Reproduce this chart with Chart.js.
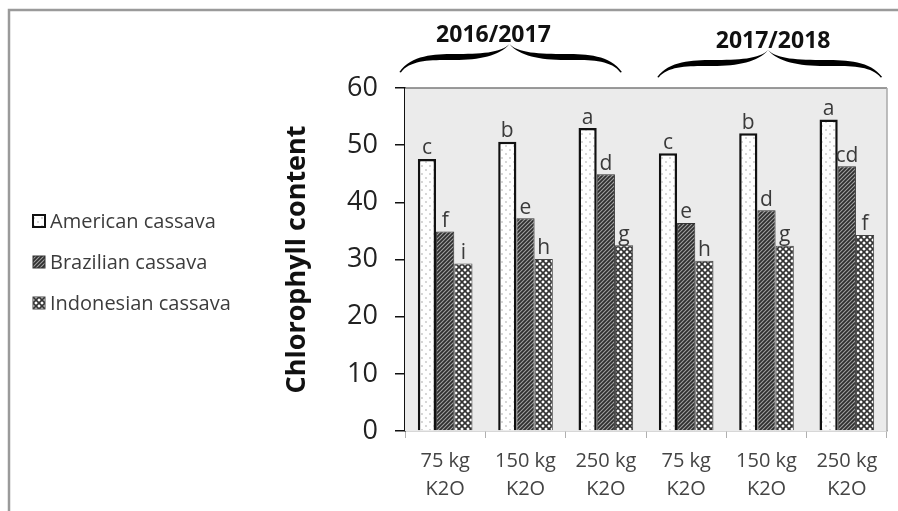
<!DOCTYPE html>
<html>
<head>
<meta charset="utf-8">
<script src="https://cdn.jsdelivr.net/npm/chart.js@4.4.1/dist/chart.umd.min.js"></script>
<style>
html,body{margin:0;padding:0;background:#fff;}
canvas{display:block;}
</style>
</head>
<body>
<canvas id="c" width="898" height="511"></canvas>
<script>
// ---- data ----
const categories = [['75 kg','K2O'],['150 kg','K2O'],['250 kg','K2O'],['75 kg','K2O'],['150 kg','K2O'],['250 kg','K2O']];
const seriesNames = ['American cassava','Brazilian cassava','Indonesian cassava'];
const american   = [47.6, 50.6, 53.0, 48.6, 52.1, 54.5];
const brazilian  = [34.9, 37.2, 44.9, 36.4, 38.6, 46.3];
const indonesian = [29.3, 30.1, 32.5, 29.8, 32.4, 34.3];
const americanLetters   = ['c','b','a','c','b','a'];
const brazilianLetters  = ['f','e','d','e','d','cd'];
const indonesianLetters = ['i','h','g','h','g','f'];
const seasons = ['2016/2017','2017/2018'];
const yTicks = [0,10,20,30,40,50,60];

// ---- patterns ----
function makePattern(kind){
  const t = document.createElement('canvas');
  const ctx = t.getContext('2d');
  if(kind==='dots'){
    t.width=8;t.height=8;
    ctx.fillStyle='#ffffff';ctx.fillRect(0,0,8,8);
    ctx.fillStyle='#c4c4c4';
    ctx.beginPath();ctx.arc(2,2,0.9,0,Math.PI*2);ctx.fill();
    ctx.beginPath();ctx.arc(6,6,0.9,0,Math.PI*2);ctx.fill();
  } else if(kind==='hatch'){
    t.width=4;t.height=4;
    ctx.fillStyle='#2e2e2e';ctx.fillRect(0,0,4,4);
    ctx.strokeStyle='#a0a0a0';ctx.lineWidth=1.1;
    ctx.beginPath();
    ctx.moveTo(-1,5);ctx.lineTo(5,-1);
    ctx.moveTo(-1,1);ctx.lineTo(1,-1);
    ctx.moveTo(3,5);ctx.lineTo(5,3);
    ctx.stroke();
  } else {
    t.width=6;t.height=6;
    ctx.fillStyle='#ffffff';ctx.fillRect(0,0,6,6);
    ctx.strokeStyle='#333333';ctx.lineWidth=1.7;
    ctx.beginPath();
    ctx.moveTo(-1,-1);ctx.lineTo(7,7);
    ctx.moveTo(-1,7);ctx.lineTo(7,-1);
    ctx.stroke();
  }
  return document.getElementById('c').getContext('2d').createPattern(t,'repeat');
}
const patDots = makePattern('dots');
const patHatch = makePattern('hatch');
const patCross = makePattern('cross');

const letters = [americanLetters, brazilianLetters, indonesianLetters];
const fills = [patDots, patHatch, patCross];
const borders = ['#111111','#333333','#444444'];
const bw = [2.5, 1, 1];

const PADL = 281;
const FONT = "'Open Sans', 'Noto Sans', sans-serif";

const decorPlugin = {
  id:'decor',
  beforeDatasetsDraw(chart){
    const {ctx, chartArea:a} = chart;
    ctx.save();
    ctx.fillStyle='#ebebeb';
    ctx.fillRect(a.left, a.top, a.right-a.left, a.bottom-a.top);
    ctx.restore();
  },
  afterDraw(chart){
    const {ctx, chartArea:a} = chart;
    ctx.save();
    // outer frame
    ctx.strokeStyle='#9a9a9a';ctx.lineWidth=2.5;
    ctx.beginPath();ctx.moveTo(9,511);ctx.lineTo(9,10);ctx.lineTo(898,10);ctx.stroke();
    // plot border top / right
    ctx.strokeStyle='#7a7a7a';ctx.lineWidth=1.5;
    ctx.beginPath();ctx.moveTo(a.left,a.top);ctx.lineTo(a.right,a.top);ctx.stroke();
    ctx.strokeStyle='#a8a8a8';ctx.lineWidth=1.5;
    ctx.beginPath();ctx.moveTo(a.right,a.top);ctx.lineTo(a.right,a.bottom);ctx.stroke();

    // letters
    ctx.fillStyle='#3a3a3a';
    ctx.font = "21px " + FONT;
    ctx.textAlign='center';ctx.textBaseline='bottom';
    chart.data.datasets.forEach((ds,di)=>{
      const meta = chart.getDatasetMeta(di);
      meta.data.forEach((el,i)=>{
        ctx.fillText(letters[di][i], el.x, el.y);
      });
    });

    // legend
    const ly = [221,262,303];
    ctx.font = "20px " + FONT;
    ctx.textAlign='left';ctx.textBaseline='middle';
    seriesNames.forEach((n,i)=>{
      ctx.fillStyle = fills[i];
      ctx.fillRect(33, ly[i]-6, 12, 12);
      ctx.strokeStyle = borders[i]; ctx.lineWidth = i===0?2:1;
      ctx.strokeRect(33, ly[i]-6, 12, 12);
      ctx.fillStyle='#3c3c3c';
      ctx.fillText(n, 50, ly[i]+1);
    });

    // braces
    const xs = chart.scales.x;
    const cw = xs.getPixelForValue(1)-xs.getPixelForValue(0);
    const p = i => xs.getPixelForValue(i);
    const cfg = [
      {l: p(0)-cw*0.57, r: p(2)+cw*0.20, yEnd:72, yPeak:44, mid: p(1)-cw*0.2, tx:-16, ty:35},
      {l: p(3)-cw*0.36, r: p(5)+cw*0.44, yEnd:77, yPeak:50, mid: p(4)+cw*0.02, tx:5, ty:41}
    ];
    cfg.forEach((b,gi)=>{
      drawBrace(ctx, b.l, b.r, b.mid, b.yEnd, b.yPeak);
      ctx.fillStyle='#111';
      ctx.font = "bold 23px " + FONT;
      ctx.textAlign='center';ctx.textBaseline='middle';
      ctx.fillText(seasons[gi], b.mid + b.tx, b.ty);
    });
    ctx.restore();
  }
};

function drawBrace(ctx, l, r, m, yEnd, yPeak){
  const yMid = yPeak + 13; // shoulder level
  const th = 3.0;
  ctx.fillStyle='#000';
  // left half
  ctx.beginPath();
  ctx.moveTo(l, yEnd);
  ctx.bezierCurveTo(l+12, yMid-2, l+35, yMid-th, (l+m)/2, yMid-th);
  ctx.bezierCurveTo(m-30, yMid-th, m-8, yMid-4, m, yPeak);
  ctx.bezierCurveTo(m-10, yMid-1, m-30, yMid+th, (l+m)/2, yMid+th);
  ctx.bezierCurveTo(l+35, yMid+th, l+11, yMid+2, l+1.5, yEnd+0.5);
  ctx.closePath();ctx.fill();
  // right half
  ctx.beginPath();
  ctx.moveTo(r, yEnd);
  ctx.bezierCurveTo(r-12, yMid-2, r-35, yMid-th, (r+m)/2, yMid-th);
  ctx.bezierCurveTo(m+30, yMid-th, m+8, yMid-4, m, yPeak);
  ctx.bezierCurveTo(m+10, yMid-1, m+30, yMid+th, (r+m)/2, yMid+th);
  ctx.bezierCurveTo(r-35, yMid+th, r-11, yMid+2, r-1.5, yEnd+0.5);
  ctx.closePath();ctx.fill();
}

new Chart(document.getElementById('c'), {
  type:'bar',
  data:{
    labels: categories,
    datasets:[
      {label:seriesNames[0], data:american, backgroundColor:patDots, borderColor:borders[0], borderWidth:bw[0]},
      {label:seriesNames[1], data:brazilian, backgroundColor:patHatch, borderColor:borders[1], borderWidth:bw[1]},
      {label:seriesNames[2], data:indonesian, backgroundColor:patCross, borderColor:borders[2], borderWidth:bw[2]}
    ]
  },
  options:{
    responsive:false,
    animation:false,
    devicePixelRatio:1,
    categoryPercentage:0.68,
    barPercentage:1.0,
    layout:{padding:{left:PADL, right:11, top:88, bottom:0}},
    plugins:{legend:{display:false}, tooltip:{enabled:false}},
    scales:{
      x:{
        grid:{drawOnChartArea:false, color:'#b0b0b0', tickLength:7, offset:true},
        border:{color:'#b0b0b0', width:1.5},
        ticks:{color:'#444', font:{family:FONT, size:20, lineHeight:1.4}, padding:9, maxRotation:0, autoSkip:false},
        afterFit(s){ s.height = 80; }
      },
      y:{
        min:0, max:60,
        afterBuildTicks(s){ s.ticks = yTicks.map(v=>({value:v})); },
        grid:{drawOnChartArea:false, color:'#111', tickLength:10, lineWidth:1.5},
        border:{color:'#111', width:2},
        ticks:{color:'#222', font:{family:FONT, size:27}, padding:17},
        title:{display:true, text:'Chlorophyll content', color:'#111', font:{family:FONT, size:27, weight:'bold'}, padding:{top:0,bottom:0}},
        afterFit(s){ s.width = 405 - PADL; }
      }
    }
  },
  plugins:[decorPlugin]
});
</script>
</body>
</html>
